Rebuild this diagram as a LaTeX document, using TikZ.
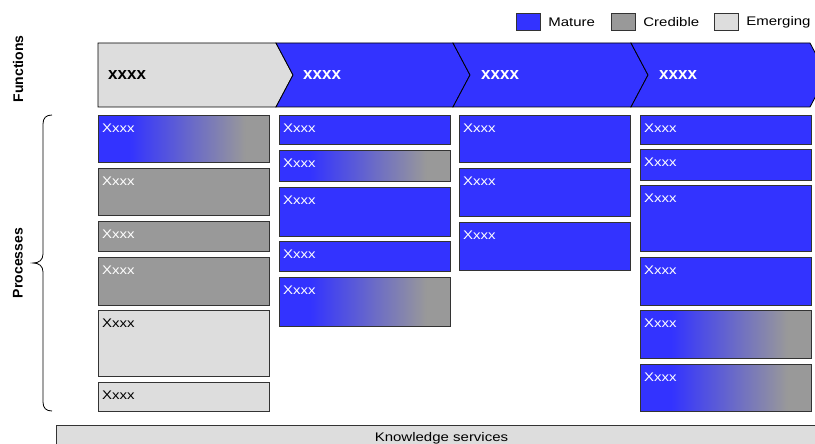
\documentclass[tikz,border=0pt]{standalone}
\usepackage{fontspec}
\setmainfont{Liberation Sans}
\newfontfamily\widefont[FakeStretch=1.2]{Liberation Sans}
\usetikzlibrary{positioning}

\definecolor{matblue}{RGB}{51,51,255}
\definecolor{credgrey}{RGB}{153,153,153}
\definecolor{emergrey}{RGB}{221,221,221}
\pgfdeclarehorizontalshading{bluetogrey}{100bp}{color(0bp)=(matblue); color(34bp)=(matblue); color(68bp)=(credgrey); color(100bp)=(credgrey)}

\begin{document}
\begin{tikzpicture}[x=1pt, y=-1pt,
    proc/.style={draw=black!80, line width=1pt, anchor=north west, minimum width=171pt, inner sep=0pt,
        label={[proc text, text=#1]north west:Xxxx}},
    proc/.default=white,
    proc text/.style={anchor=north west, inner sep=0pt, xshift=4pt, yshift=-9pt, font=\widefont\fontsize{12.5}{14}\selectfont},
    mature/.style={proc, fill=matblue},
    credible/.style={proc, fill=credgrey},
    emerging/.style={proc=black, fill=emergrey},
    mixed/.style={proc, shade, shading=bluetogrey},
    chev/.style={draw=black, line width=0.8pt},
    head/.style={anchor=west, inner sep=0pt, text=white, font=\bfseries\fontsize{17}{20}\selectfont},
    side/.style={rotate=90, font=\bfseries\fontsize{14}{16}\selectfont},
    legbox/.style={draw=black!80, line width=0.8pt, anchor=north west, minimum width=24pt, minimum height=17pt, inner sep=0pt},
    legtext/.style={font=\widefont\fontsize{12.5}{14}\selectfont}]

    \clip (0,0) rectangle (815,444);

    % legend
    \node[legbox, fill=matblue] (lmat) at (516,13) {};
    \node[legtext, right=4pt of lmat, yshift=-0.5pt] (tmat) {Mature};
    \node[legbox, fill=credgrey] (lcred) at (611,13) {};
    \node[legtext, right=4pt of lcred, yshift=-0.5pt] (tcred) {Credible};
    \node[legbox, fill=emergrey] (lemer) at (714,13) {};
    \node[legtext, right=4pt of lemer, yshift=-0.5pt] (temer) {Emerging};

    % functions
    \draw[chev, fill=emergrey] (98,43) -- (276,43) -- (293,75) -- (276,107) -- (98,107) -- cycle;
    \foreach \a/\b in {276/453, 453/631, 631/810}
        \draw[chev, fill=matblue] (\a,43) -- (\b,43) -- (\b+17,75) -- (\b,107) -- (\a,107) -- (\a+17,75) -- cycle;
    \node[head, text=black] (f1) at (108,75) {xxxx};
    \node[head] (f2) at (303,75) {xxxx};
    \node[head] (f3) at (481,75) {xxxx};
    \node[head] (f4) at (659,75) {xxxx};

    \node[side] (fun) at (18,69) {Functions};
    \node[side] (proc) at (18,263) {Processes};
    \draw[line width=0.8pt] (52,115) .. controls (46,115) and (43,118) .. (43,124) -- (43,254)
        .. controls (43,260) and (39,263) .. (33,263) .. controls (39,263) and (43,266) .. (43,272)
        -- (43,402) .. controls (43,408) and (46,411) .. (52,411);

    % processes, column 1
    \node[mixed, minimum height=47pt] (p11) at (98,115) {};
    \node[credible, minimum height=47pt] (p12) at (98,168) {};
    \node[credible, minimum height=30pt] (p13) at (98,221) {};
    \node[credible, minimum height=48pt] (p14) at (98,257) {};
    \node[emerging, minimum height=66pt] (p15) at (98,310) {};
    \node[emerging, minimum height=29pt] (p16) at (98,382) {};

    % column 2
    \node[mature, minimum height=29pt] (p21) at (279,115) {};
    \node[mixed, minimum height=31pt] (p22) at (279,150) {};
    \node[mature, minimum height=49pt] (p23) at (279,187) {};
    \node[mature, minimum height=30pt] (p24) at (279,241) {};
    \node[mixed, minimum height=49pt] (p25) at (279,277) {};

    % column 3
    \node[mature, minimum height=47pt] (p31) at (459,115) {};
    \node[mature, minimum height=48pt] (p32) at (459,168) {};
    \node[mature, minimum height=48pt] (p33) at (459,222) {};

    % column 4
    \node[mature, minimum height=29pt] (p41) at (640,115) {};
    \node[mature, minimum height=31pt] (p42) at (640,149) {};
    \node[mature, minimum height=66pt] (p43) at (640,185) {};
    \node[mature, minimum height=48pt] (p44) at (640,257) {};
    \node[mixed, minimum height=48pt] (p45) at (640,310) {};
    \node[mixed, minimum height=47pt] (p46) at (640,364) {};

    % knowledge services
    \node[draw=black!80, line width=1pt, fill=emergrey, anchor=north west, minimum width=770pt, minimum height=30pt] (ks) at (56,425) {};
    \node[legtext, anchor=base] (kstext) at ([yshift=-16.5pt]ks.north) {Knowledge services};
\end{tikzpicture}
\end{document}
